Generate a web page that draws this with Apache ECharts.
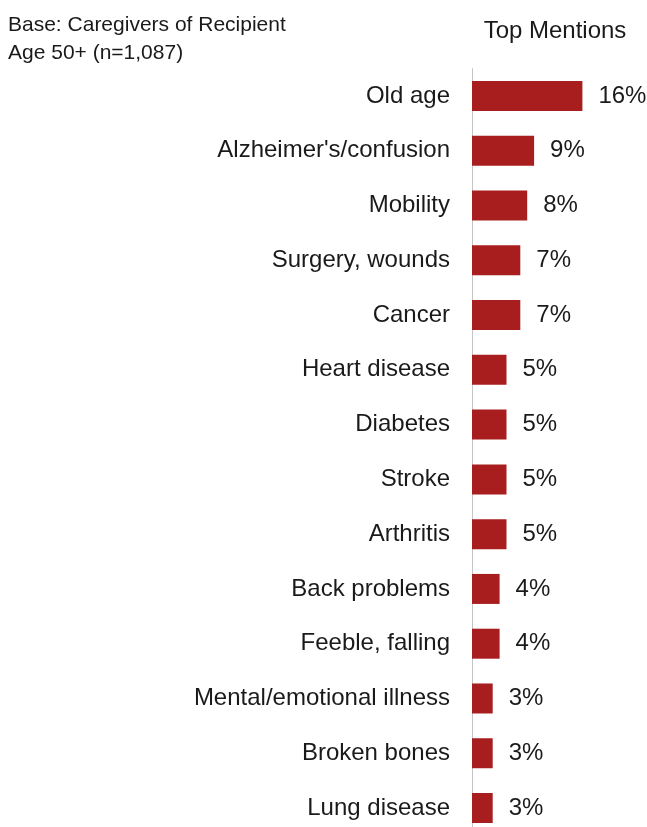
<!DOCTYPE html>
<html>
<head>
<meta charset="utf-8">
<script src="https://cdn.jsdelivr.net/npm/echarts@6/dist/echarts.min.js"></script>
<style>
  html, body { margin: 0; padding: 0; background: #fff; }
  #chart { width: 647px; height: 827px; }
</style>
</head>
<body>
<div id="chart"></div>
<script>
// Conditions named by caregivers, top mentions (percent)
const categories = [
  'Old age', "Alzheimer's/confusion", 'Mobility', 'Surgery, wounds', 'Cancer',
  'Heart disease', 'Diabetes', 'Stroke', 'Arthritis', 'Back problems',
  'Feeble, falling', 'Mental/emotional illness', 'Broken bones', 'Lung disease'
];
const values = [16, 9, 8, 7, 7, 5, 5, 5, 5, 4, 4, 3, 3, 3];

const chart = echarts.init(document.getElementById('chart'), null, { renderer: 'canvas' });
const font = 'Arial';

chart.setOption({
  animation: false,
  backgroundColor: '#ffffff',
  title: [
    {
      text: 'Base: Caregivers of Recipient\nAge 50+ (n=1,087)',
      left: 8, top: 11, padding: 0,
      textStyle: { fontFamily: font, fontSize: 21, fontWeight: 'normal', color: '#1a1a1a', lineHeight: 28 }
    },
    {
      text: 'Top Mentions',
      left: 555, top: 19, padding: 0, textAlign: 'center',
      textStyle: { fontFamily: font, fontSize: 24, fontWeight: 'normal', color: '#1a1a1a' }
    }
  ],
  grid: { left: 472, top: 68.6, width: 138, height: 766.8, outerBoundsMode: 'none', containLabel: false },
  xAxis: {
    type: 'value', min: 0, max: 20,
    show: false
  },
  yAxis: {
    type: 'category',
    data: categories,
    inverse: true,
    axisLine: { show: true, lineStyle: { color: '#c4c4c4', width: 1 } },
    axisTick: { show: false },
    axisLabel: { margin: 22, fontFamily: font, fontSize: 24, color: '#1a1a1a', padding: [2, 0, 0, 0] }
  },
  series: [{
    type: 'bar',
    data: values,
    barWidth: 30,
    itemStyle: { color: '#a81e1f' },
    label: {
      show: true, position: 'right', distance: 16,
      formatter: p => p.value + '%',
      fontFamily: font, fontSize: 24, color: '#1a1a1a', padding: [2, 0, 0, 0]
    }
  }]
});
</script>
</body>
</html>
